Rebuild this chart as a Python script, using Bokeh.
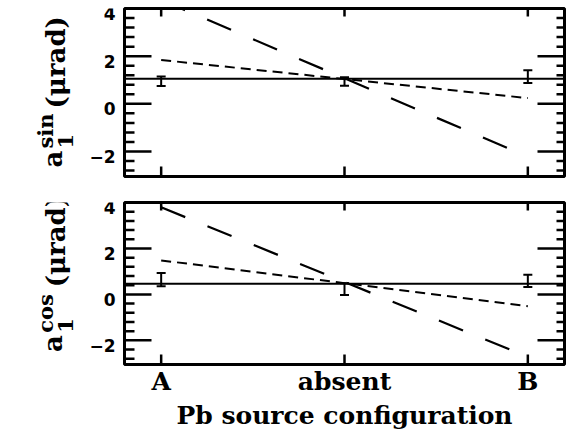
import numpy as np
from bokeh.plotting import figure
from bokeh.models import Range1d, FixedTicker, Span, Whisker, ColumnDataSource, TeeHead
from bokeh.core.properties import value
from bokeh.layouts import column, row
from bokeh.embed import file_html
from bokeh.resources import INLINE

# ---- data ----
categories = ["A", "absent", "B"]
y_ticks = [-2, 0, 2, 4]
y_tick_labels = ["\u22122", "0", "2", "4"]
x_label = "Pb source configuration"

sin_values = [0.95, 0.94, 1.14]
sin_errors = [0.20, 0.18, 0.27]
sin_mean = 1.05
sin_short_dash = [1.84, 1.04, 0.24]
sin_long_dash = [4.36, 1.07, -2.22]

cos_values = [0.64, 0.23, 0.59]
cos_errors = [0.29, 0.26, 0.27]
cos_mean = 0.46
cos_short_dash = [1.48, 0.49, -0.51]
cos_long_dash = [3.79, 0.54, -2.72]

SERIF = "DejaVu Serif"
SANS = "DejaVu Sans"
X_START, X_END = -0.2, 2.2
Y_START, Y_END = -3.05, 4.0
TOTAL_W = 566
STRIP_W = 120
FRAME_H = 168


def make_panel(values, errors, mean, short, long_, height, b_top, b_bottom, show_x):
    xs = list(range(len(categories)))
    p = figure(width=TOTAL_W - STRIP_W, height=height, output_backend="svg",
               toolbar_location=None,
               x_range=Range1d(X_START, X_END), y_range=Range1d(Y_START, Y_END),
               x_axis_location="below" if show_x else None, y_axis_location=None,
               min_border_left=4, min_border_right=2,
               min_border_top=b_top, min_border_bottom=b_bottom)
    p.xgrid.visible = False
    p.ygrid.visible = False
    p.outline_line_color = "black"
    p.outline_line_width = 3
    p.background_fill_color = "white"
    p.border_fill_color = "white"

    # tick marks, pointing into the frame on all four sides
    minor = [round(v, 2) for v in np.arange(-2.8, 4.0, 0.4)
             if abs(round(v, 2) - round(v)) > 1e-6 or round(v) % 2 != 0]
    tk = dict(line_color="black", line_width=2.5, length_units="screen")
    p.ray(x=[X_START] * len(y_ticks), y=y_ticks, length=27, angle=0, **tk)
    p.ray(x=[X_START] * len(minor), y=minor, length=10, angle=0, **tk)
    p.ray(x=[X_END] * len(y_ticks), y=y_ticks, length=27, angle=np.pi, **tk)
    p.ray(x=[X_END] * len(minor), y=minor, length=8, angle=np.pi, **tk)
    p.ray(x=xs, y=[Y_END] * len(xs), length=8, angle=-np.pi / 2, **tk)
    p.ray(x=xs, y=[Y_START] * len(xs), length=10, angle=np.pi / 2, **tk)

    if show_x:
        bx = p.xaxis[0]
        bx.ticker = FixedTicker(ticks=xs, minor_ticks=[])
        bx.major_tick_in = 0
        bx.major_tick_out = 0
        bx.minor_tick_line_color = None
        bx.axis_line_color = None
        bx.major_label_overrides = {i: c for i, c in zip(xs, categories)}
        bx.major_label_text_font = SERIF
        bx.major_label_text_font_style = "bold"
        bx.major_label_text_font_size = "25px"
        bx.major_label_text_color = "black"
        bx.major_label_standoff = 2
        bx.axis_label = x_label
        bx.axis_label_text_font = SERIF
        bx.axis_label_text_font_style = "bold"
        bx.axis_label_text_font_size = "25px"
        bx.axis_label_text_color = "black"
        bx.axis_label_standoff = 2

    # data
    p.add_layout(Span(location=mean, dimension="width", line_color="black", line_width=2))
    p.line(xs, short, line_color="black", line_width=2, line_dash="10 6")
    p.line(xs, long_, line_color="black", line_width=2.2, line_dash="26 24")

    src = ColumnDataSource(dict(
        x=xs,
        upper=[v + e for v, e in zip(values, errors)],
        lower=[v - e for v, e in zip(values, errors)]))
    p.add_layout(Whisker(base="x", upper="upper", lower="lower", source=src,
                         dimension="height", line_color="black", line_width=2,
                         upper_head=TeeHead(size=9, line_width=2, line_color="black"),
                         lower_head=TeeHead(size=9, line_width=2, line_color="black")))
    return p


def make_strip(height, b_top, b_bottom, sup, a_y, sup_y, par_y):
    # left strip: y tick labels and the rotated title a_1^{sup}(μrad)
    t = figure(width=STRIP_W, height=height, output_backend="svg", toolbar_location=None,
               x_range=Range1d(0, STRIP_W), y_range=Range1d(0, FRAME_H),
               x_axis_location=None, y_axis_location=None,
               min_border_left=0, min_border_right=0,
               min_border_top=b_top, min_border_bottom=b_bottom)
    t.extra_y_ranges = {"val": Range1d(Y_START, Y_END)}
    t.xgrid.visible = False
    t.ygrid.visible = False
    t.outline_line_color = None
    t.border_fill_color = "white"
    t.background_fill_color = "white"

    # tick labels, sitting a few px below their tick as in the original
    shift = 5 * (Y_END - Y_START) / FRAME_H
    t.text(x=[115] * len(y_ticks), y=[v - shift for v in y_ticks], text=y_tick_labels,
           y_range_name="val", text_align="right", text_baseline="middle",
           text_font=value(SANS), text_font_style="bold", text_font_size="17px",
           text_color="black")

    kw = dict(angle=np.pi / 2, text_align="left", text_baseline="alphabetic",
              text_font=value(SERIF), text_font_style="bold", text_color="black")
    t.text(x=[52], y=[a_y], text=["a"], text_font_size="26px", **kw)
    t.text(x=[65], y=[sup_y], text=["1"], text_font_size="21px", **kw)
    t.text(x=[45], y=[sup_y], text=[sup], text_font_size="21px", **kw)
    t.text(x=[55], y=[par_y], text=["(\u03bcrad)"], text_font_size="26px", **kw)
    return t


p1 = make_panel(sin_values, sin_errors, sin_mean, sin_short_dash, sin_long_dash,
                184, 8, 8, False)
t1 = make_strip(184, 8, 8, "sin", 9, 28, 68)
p2 = make_panel(cos_values, cos_errors, cos_mean, cos_short_dash, cos_long_dash,
                248, 18, 62, True)
t2 = make_strip(248, 18, 62, "cos", 13, 33, 80)

layout = column(row(t1, p1, spacing=0), row(t2, p2, spacing=0), spacing=0)
open("out.html", "w").write(file_html(layout, INLINE))
